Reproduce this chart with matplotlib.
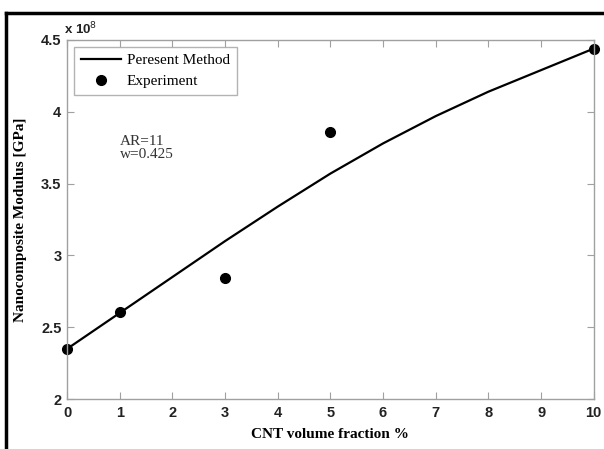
import matplotlib
matplotlib.use("Agg")
import matplotlib.pyplot as plt
from matplotlib.lines import Line2D
from matplotlib.ticker import FuncFormatter

# Data (modulus values, shown with x 10^8 scale)
vf_model = [0, 1, 2, 3, 4, 5, 6, 7, 8, 9, 10]
mod_model = [2.35e8, 2.60e8, 2.85e8, 3.10e8, 3.34e8, 3.57e8, 3.78e8, 3.97e8, 4.14e8, 4.29e8, 4.44e8]

vf_exp = [0, 1, 3, 5, 10]
mod_exp = [2.35e8, 2.61e8, 2.84e8, 3.86e8, 4.44e8]

x_ticks = list(range(0, 11))
y_ticks = [2.0e8, 2.5e8, 3.0e8, 3.5e8, 4.0e8, 4.5e8]
SCALE = 1e8

serif = "Liberation Serif"
sans = "Liberation Sans"
grey = "#a0a0a0"

fig = plt.figure(figsize=(6.04, 4.49), dpi=100)
ax = fig.add_axes([0.111, 0.111, 0.872, 0.800])

ax.plot(vf_model, mod_model, color="black", lw=1.6, label="Peresent Method")
ax.plot(vf_exp, mod_exp, "o", color="black", ms=7, label="Experiment", clip_on=False)

ax.set_xlim(0, 10)
ax.set_ylim(2.0e8, 4.5e8)
ax.set_xticks(x_ticks)
ax.set_yticks(y_ticks)
ax.yaxis.set_major_formatter(FuncFormatter(lambda v, p: f"{v / SCALE:g}"))

for sp in ax.spines.values():
    sp.set_color(grey)
    sp.set_linewidth(1.0)
ax.tick_params(direction="in", top=True, right=True, length=5, color=grey,
               labelsize=10.5)
ax.tick_params(axis="x", pad=5)
ax.tick_params(axis="y", pad=4)
for lab in ax.get_xticklabels() + ax.get_yticklabels():
    lab.set_fontfamily(sans)
    lab.set_fontweight("bold")
    lab.set_color("#222222")

ax.text(-0.005, 1.008, r"x 10$^{8}$", transform=ax.transAxes, fontsize=9.5,
        fontfamily=sans, fontweight="bold", color="#222222", va="bottom", ha="left")

ax.set_xlabel("CNT volume fraction %", fontfamily=serif, fontweight="bold",
              fontsize=11, labelpad=6)
ax.set_ylabel("Nanocomposite Modulus [GPa]", fontfamily=serif, fontweight="bold",
              fontsize=11, labelpad=10)

leg = ax.legend(loc="upper left", prop={"family": serif, "size": 11},
                frameon=True, fancybox=False, edgecolor=grey, borderaxespad=0.45,
                handlelength=2.6, handletextpad=0.4, borderpad=0.45, labelspacing=0.45)
leg.get_frame().set_linewidth(1.0)

ax.text(1.0, 3.75e8, "AR=11\nw=0.425", fontfamily=serif, fontsize=11,
        color="#333333", va="center", ha="left", linespacing=1.0)

# outer black frame (top and left edges only)
fig.add_artist(Line2D([0.010, 1.0], [0.972, 0.972], transform=fig.transFigure,
                      color="black", lw=2.5))
fig.add_artist(Line2D([0.010, 0.010], [0.0, 0.972], transform=fig.transFigure,
                      color="black", lw=2.5))

fig.savefig("out.png", dpi=100)
